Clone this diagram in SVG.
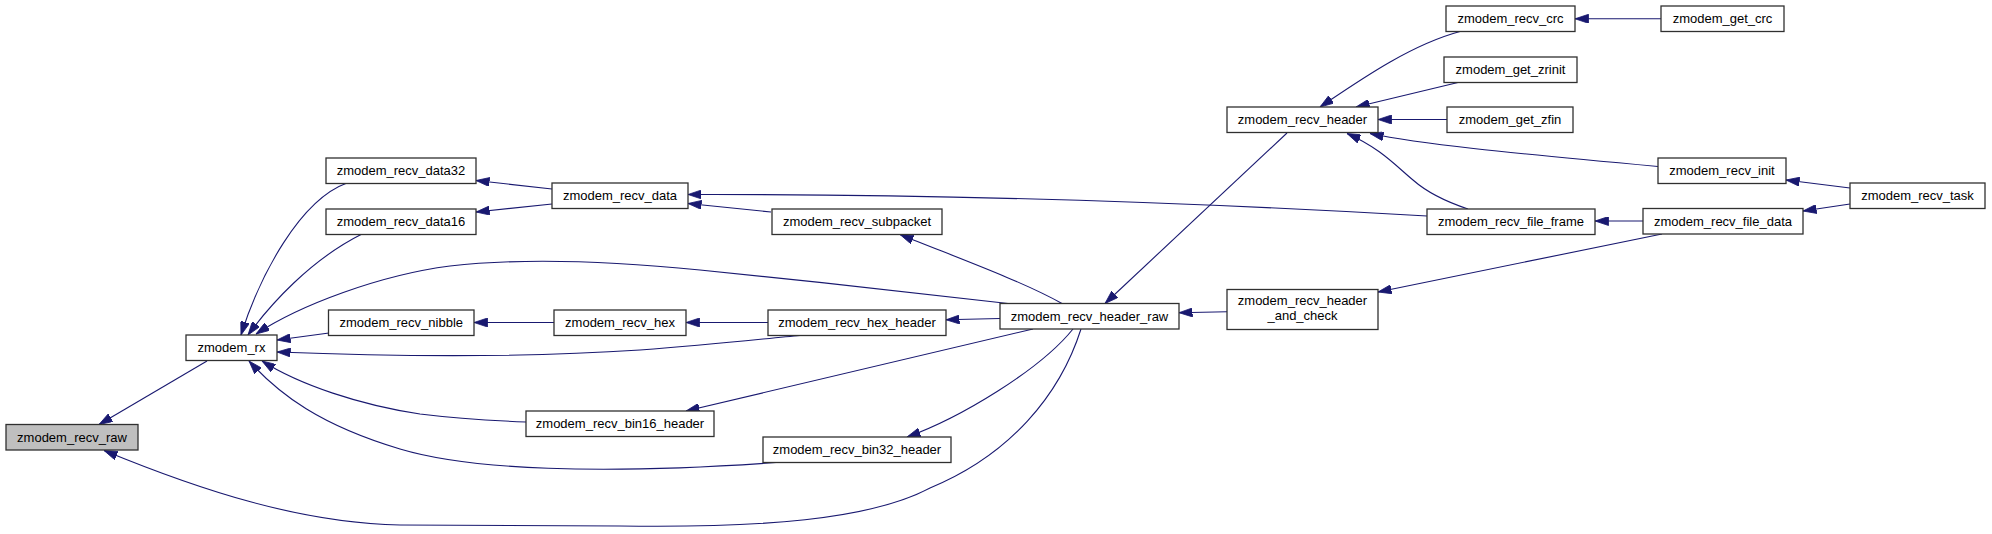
<svg xmlns="http://www.w3.org/2000/svg" width="1992" height="534" viewBox="0 0 1992 534">
<style>
.node rect{fill:#ffffff;stroke:#303030;stroke-width:1.3}
.node.hl rect{fill:#bfbfbf}
.node text{font-family:"Liberation Sans",Arial,sans-serif;font-size:13px;fill:#000000;text-anchor:middle}
.edges path{fill:none;stroke:#191970;stroke-width:1.1;marker-start:url(#ah)}
</style>
<defs>
<marker id="ah" viewBox="0 0 13.5 9" refX="13.5" refY="4.5" markerWidth="13.5" markerHeight="9" markerUnits="userSpaceOnUse" orient="auto-start-reverse">
<polygon points="0,0 13.5,4.5 0,9" fill="#191970" stroke="#191970" stroke-width="0.8"/>
</marker>
</defs>
<rect x="0" y="0" width="1992" height="534" fill="#ffffff"/>
<g class="edges" id="edges">
<path d="M99,424.5 L207,361"/>
<path d="M104,450.5 C200,490 300,523 400,525 L620,526 C760,528 870,520 930,488 C1010,455 1060,395 1081,329"/>
<path d="M241,335 C260,275 300,200 347,183"/>
<path d="M248,335 C270,305 310,260 362,234"/>
<path d="M256,334 C300,305 380,275 450,266 C520,258 600,260 700,270 C800,280 920,293 1008,303.5"/>
<path d="M277,340 L329,333"/>
<path d="M277,352 C380,356 520,358 640,350 C720,344 770,338 800,335.5"/>
<path d="M262,361 C300,385 360,405 420,414 C460,419 500,421 526,422"/>
<path d="M249,361 C280,395 320,425 400,449 C470,470 600,475 776,462.5"/>
<path d="M476,180.5 L552,189"/>
<path d="M476,212 L552,204"/>
<path d="M688,203.5 L771,212"/>
<path d="M688,194.5 C900,194 1150,200 1427,216"/>
<path d="M474,322.5 L554,322.5"/>
<path d="M686,322.5 L768,322.5"/>
<path d="M946,319.8 L1000,318.5"/>
<path d="M900,234.5 C950,255 1020,280 1062,303.5"/>
<path d="M686,411 L1033,329"/>
<path d="M907,437 C960,418 1040,370 1073,329"/>
<path d="M1105,303.5 L1287,133"/>
<path d="M1179,312.7 L1227,311.7"/>
<path d="M1320,107 C1360,80 1410,45 1460,31.5"/>
<path d="M1356,107 L1458,82.5"/>
<path d="M1378,119.5 L1447,119.5"/>
<path d="M1370,133.5 C1420,144 1500,152 1658,166.5"/>
<path d="M1347,133.5 C1380,148 1395,165 1413,180 C1430,195 1450,203 1468,209"/>
<path d="M1575,18.8 L1661,18.8"/>
<path d="M1595,221 L1643,221"/>
<path d="M1378,292 L1662,234"/>
<path d="M1786,180 L1850,188"/>
<path d="M1803,211 L1850,204"/>
</g>
<g class="node hl" id="zmodem_recv_raw"><rect x="6" y="424.5" width="132" height="25.5"/><text x="72" y="441.75">zmodem_recv_raw</text></g>
<g class="node" id="zmodem_rx"><rect x="186" y="335" width="91" height="25.5"/><text x="231.5" y="352.25">zmodem_rx</text></g>
<g class="node" id="zmodem_recv_data32"><rect x="326" y="158" width="150" height="25.5"/><text x="401" y="175.25">zmodem_recv_data32</text></g>
<g class="node" id="zmodem_recv_data16"><rect x="326" y="209" width="150" height="25.5"/><text x="401" y="226.25">zmodem_recv_data16</text></g>
<g class="node" id="zmodem_recv_nibble"><rect x="328.5" y="310" width="145.5" height="25.5"/><text x="401.25" y="327.25">zmodem_recv_nibble</text></g>
<g class="node" id="zmodem_recv_bin16_header"><rect x="526" y="411" width="188" height="25.5"/><text x="620" y="428.25">zmodem_recv_bin16_header</text></g>
<g class="node" id="zmodem_recv_data"><rect x="552" y="183" width="136" height="25.5"/><text x="620" y="200.25">zmodem_recv_data</text></g>
<g class="node" id="zmodem_recv_hex"><rect x="554" y="310" width="132" height="25.5"/><text x="620" y="327.25">zmodem_recv_hex</text></g>
<g class="node" id="zmodem_recv_subpacket"><rect x="772" y="209" width="170" height="25.5"/><text x="857" y="226.25">zmodem_recv_subpacket</text></g>
<g class="node" id="zmodem_recv_hex_header"><rect x="768" y="310" width="178" height="25.5"/><text x="857" y="327.25">zmodem_recv_hex_header</text></g>
<g class="node" id="zmodem_recv_bin32_header"><rect x="763" y="437" width="188" height="25.5"/><text x="857" y="454.25">zmodem_recv_bin32_header</text></g>
<g class="node" id="zmodem_recv_header_raw"><rect x="1000" y="303.5" width="179" height="25.5"/><text x="1089.5" y="320.75">zmodem_recv_header_raw</text></g>
<g class="node" id="zmodem_recv_header"><rect x="1227" y="107" width="151" height="25.5"/><text x="1302.5" y="124.25">zmodem_recv_header</text></g>
<g class="node" id="zmodem_recv_header_and_check"><rect x="1227" y="289.5" width="151" height="40"/><text x="1302.5" y="304.5">zmodem_recv_header</text><text x="1302.5" y="320">_and_check</text></g>
<g class="node" id="zmodem_recv_crc"><rect x="1446" y="6" width="129" height="25.5"/><text x="1510.5" y="23.25">zmodem_recv_crc</text></g>
<g class="node" id="zmodem_get_zrinit"><rect x="1444" y="57" width="133" height="25.5"/><text x="1510.5" y="74.25">zmodem_get_zrinit</text></g>
<g class="node" id="zmodem_get_zfin"><rect x="1447" y="107" width="126" height="25.5"/><text x="1510" y="124.25">zmodem_get_zfin</text></g>
<g class="node" id="zmodem_recv_file_frame"><rect x="1427" y="209" width="168" height="25.5"/><text x="1511" y="226.25">zmodem_recv_file_frame</text></g>
<g class="node" id="zmodem_recv_init"><rect x="1658" y="158" width="128" height="25.5"/><text x="1722" y="175.25">zmodem_recv_init</text></g>
<g class="node" id="zmodem_recv_file_data"><rect x="1643" y="208.5" width="160" height="25.5"/><text x="1723" y="225.75">zmodem_recv_file_data</text></g>
<g class="node" id="zmodem_get_crc"><rect x="1661" y="6" width="123" height="25.5"/><text x="1722.5" y="23.25">zmodem_get_crc</text></g>
<g class="node" id="zmodem_recv_task"><rect x="1850" y="183" width="135" height="25.5"/><text x="1917.5" y="200.25">zmodem_recv_task</text></g>
</svg>
